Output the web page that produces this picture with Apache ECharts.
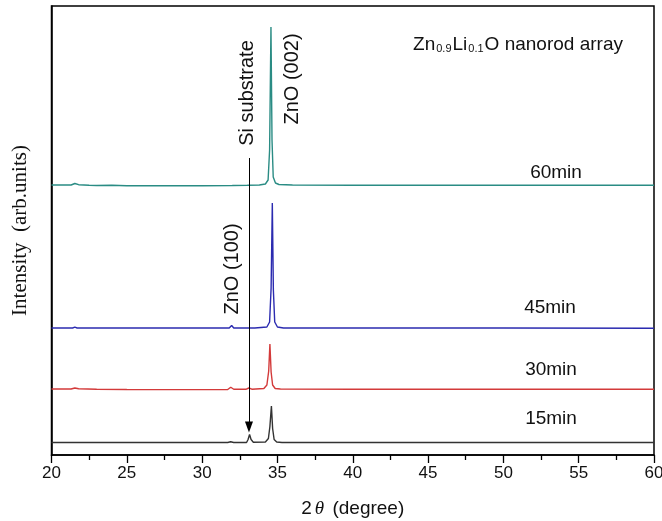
<!DOCTYPE html>
<html>
<head>
<meta charset="utf-8">
<script src="https://cdn.jsdelivr.net/npm/echarts@6/dist/echarts.min.js"></script>
<style>html,body{margin:0;padding:0;background:#fff}#c{width:662px;height:521px}</style>
</head>
<body>
<div id="c"></div>
<script>
// ---- data (2theta in degrees, intensity in arb. units above each curve's own baseline) ----
const seriesNames = ['15min', '30min', '45min', '60min'];
const offsets = [12.5, 66, 127, 270];           // vertical stacking offsets (arb. units)
const colors = ['#333333', '#d33a3a', '#2b2bb0', '#2a8c84'];

const data15 = [[20,0],[25,0],[31.7,0],[31.9,0.8],[32.1,0],[32.95,0],[33.05,3],[33.15,8],[33.25,3],[33.4,0.3],[34.2,0.5],[34.4,4],[34.5,16],[34.6,36.5],[34.68,14],[34.78,3],[34.95,0.5],[35.3,0],[40,0],[50,0],[60,0]];
const data30 = [[20,0],[21.3,0],[21.55,1],[21.8,0.2],[23,-0.3],[25,-0.5],[28,-0.6],[31.7,-0.5],[31.9,1.8],[32.1,-0.3],[32.9,-0.3],[33.1,1],[33.3,-0.2],[34.1,0.5],[34.3,4],[34.42,18],[34.5,45],[34.58,17],[34.68,4],[34.85,0.5],[35.2,0],[40,-0.2],[50,-0.3],[60,-0.3]];
const data45 = [[20,0],[21.4,0],[21.55,0.8],[21.7,0],[25,0],[31.8,0],[31.96,2.5],[32.1,0],[33.5,0],[34.3,1],[34.48,6],[34.58,40],[34.66,125],[34.73,38],[34.82,6],[35.0,1],[35.4,0],[40,0],[50,0],[60,-0.3]];
const data60 = [[20,0],[21.3,0],[21.55,1.5],[21.8,0.3],[22.5,-0.2],[23,-0.5],[24,-0.3],[25,-0.8],[27,-0.8],[30,-0.8],[32,-0.5],[33,-0.3],[33.8,0],[34.2,1],[34.38,5],[34.48,35],[34.57,158],[34.64,45],[34.72,8],[34.87,2],[35.1,0.5],[36,0],[40,-0.3],[50,-0.3],[60,-0.3]];
const allData = [data15, data30, data45, data60];

const xTicks = [20, 25, 30, 35, 40, 45, 50, 55, 60];
const arrowX = 33.11;      // Si substrate arrow position (2theta)
const arrowFromTo = [297, 28];

const chart = echarts.init(document.getElementById('c'), null, {renderer: 'canvas'});

const series = allData.map((d, i) => {
  const s = {
    name: seriesNames[i],
    type: 'line',
    showSymbol: false,
    symbol: 'none',
    data: d.map(p => [p[0], p[1] + offsets[i]]),
    lineStyle: {color: colors[i], width: 1.4},
    itemStyle: {color: colors[i]},
    animation: false,
    z: 3
  };
  if (i === 0) {
    s.markLine = {
      silent: true,
      symbol: ['none', 'triangle'],
      symbolSize: [8, 11],
      label: {show: false},
      lineStyle: {color: '#000', width: 1, type: 'solid'},
      data: [[{coord: [arrowX, arrowFromTo[0]]}, {coord: [arrowX, arrowFromTo[1]]}]],
      animation: false
    };
  }
  return s;
});

const txt = (x, y, text, size, rot) => ({
  type: 'text', x: x, y: y, rotation: rot || 0,
  style: {text: text, font: size + 'px "Liberation Sans", Arial, sans-serif', fill: '#111', align: 'center', verticalAlign: 'middle'}
});

chart.setOption({
  animation: false,
  backgroundColor: '#fff',
  grid: {left: 51.5, right: 8, top: 6, bottom: 66, show: true, borderColor: '#000', borderWidth: 1.5, backgroundColor: 'transparent', outerBoundsMode: 'none', containLabel: false},
  xAxis: {
    type: 'value', min: 20, max: 60, interval: 5,
    axisLine: {show: true, lineStyle: {color: '#000', width: 1.5}},
    axisTick: {show: true, inside: false, length: 8, lineStyle: {color: '#000', width: 1.3}},
    minorTick: {show: true, splitNumber: 2, length: 5, lineStyle: {color: '#000', width: 1.3}},
    splitLine: {show: false},
    axisLabel: {color: '#111', fontSize: 17, fontFamily: '"Liberation Sans", Arial, sans-serif', margin: 10,
      formatter: v => xTicks.includes(v) ? String(v) : ''},
    name: '{a|2}{t|θ}{a| (degree)}',
    nameLocation: 'middle', nameGap: 44,
    nameTextStyle: {rich: {
      a: {fontSize: 19, fontFamily: '"Liberation Sans", Arial, sans-serif', color: '#111'},
      t: {fontSize: 19, fontStyle: 'italic', fontFamily: '"Liberation Serif", serif', color: '#111', padding: [0, 3, 0, 3]}
    }}
  },
  yAxis: {
    type: 'value', min: 0, max: 449,
    axisLine: {show: true, lineStyle: {color: '#000', width: 1.5}},
    axisTick: {show: false}, axisLabel: {show: false}, splitLine: {show: false},
    name: 'Intensity  (arb.units)', nameLocation: 'middle', nameGap: 21,
    nameTextStyle: {fontSize: 21, fontFamily: '"Liberation Serif", "Times New Roman", serif', color: '#111'}
  },
  series: series,
  graphic: [
    txt(556, 173, '60min', 19),
    txt(550, 308, '45min', 19),
    txt(551, 370, '30min', 19),
    txt(551, 419, '15min', 19),
    txt(247, 93, 'Si substrate', 20, Math.PI / 2),
    txt(292, 79, 'ZnO (002)', 20, Math.PI / 2),
    txt(232, 269, 'ZnO (100)', 20, Math.PI / 2),
    {
      type: 'text', x: 518, y: 42,
      style: {
        text: '{a|Zn}{s|0.9}{a|Li}{s|0.1}{a|O nanorod array}',
        align: 'center', verticalAlign: 'middle',
        rich: {
          a: {fontSize: 19, fontFamily: '"Liberation Sans", Arial, sans-serif', fill: '#111', lineHeight: 24, verticalAlign: 'bottom'},
          s: {fontSize: 11, fontFamily: '"Liberation Sans", Arial, sans-serif', fill: '#111', lineHeight: 24, verticalAlign: 'bottom', padding: [0, 1, 0, 1]}
        }
      }
    }
  ]
});
</script>
</body>
</html>
